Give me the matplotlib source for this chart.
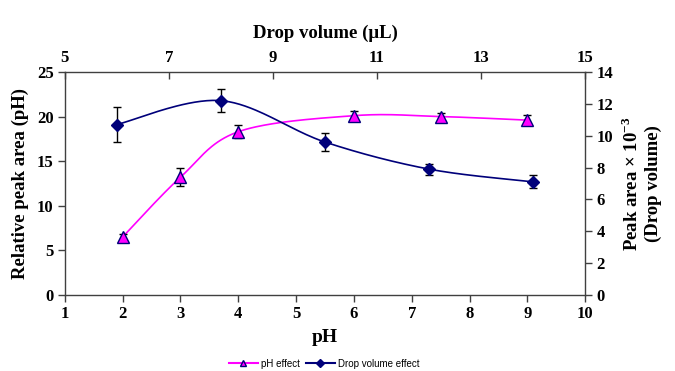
import matplotlib
matplotlib.use("Agg")
import matplotlib.pyplot as plt
from matplotlib.lines import Line2D
import numpy as np

plt.rcParams["font.family"] = "Liberation Serif"
plt.rcParams["font.weight"] = "bold"
plt.rcParams["mathtext.fontset"] = "custom"
plt.rcParams["mathtext.rm"] = "Liberation Serif:bold"
plt.rcParams["mathtext.bf"] = "Liberation Serif:bold"

# pH effect (bottom x, left y)
ph_values = [2, 3, 4, 6, 7.5, 9]
ph_area = [6.5, 13.2, 18.3, 20.1, 20.0, 19.6]
ph_err = [0.3, 1.0, 0.7, 0.5, 0.4, 0.6]

# drop volume effect (top x, right y)
drop_volume = [6, 8, 10, 12, 14]
drop_area = [10.7, 12.2, 9.6, 7.9, 7.1]
drop_err = [1.1, 0.7, 0.55, 0.35, 0.4]

MAGENTA = "#FF00FF"
NAVY = "#00007A"
SPINE = "#404040"


def smooth_curve(x, y, xspan, yspan, n=40):
    # Excel-style smoothed line (Catmull-Rom via cubic Bezier), in normalized units
    px = np.asarray(x, float) / xspan
    py = np.asarray(y, float) / yspan
    pts = np.column_stack([px, py])
    pts = np.vstack([pts[0], pts, pts[-1]])
    out = []
    t = np.linspace(0, 1, n)[:, None]
    for i in range(1, len(pts) - 2):
        p0, p3 = pts[i], pts[i + 1]
        c1 = p0 + (pts[i + 1] - pts[i - 1]) / 6
        c2 = p3 - (pts[i + 2] - pts[i]) / 6
        seg = ((1 - t) ** 3) * p0 + 3 * ((1 - t) ** 2) * t * c1 \
            + 3 * (1 - t) * t ** 2 * c2 + t ** 3 * p3
        out.append(seg)
    out = np.vstack(out)
    return out[:, 0] * xspan, out[:, 1] * yspan


fig = plt.figure(figsize=(6.75, 3.71), dpi=100)
ax = fig.add_axes([0.096, 0.205, 0.771, 0.601])
ax2 = fig.add_axes(ax.get_position(), frameon=False)

# pH series
ax.set_xlim(1, 10)
ax.set_ylim(0, 25)
sx, sy = smooth_curve(ph_values, ph_area, 9 / 520, 25 / 223)
ax.plot(sx, sy, color=MAGENTA, linewidth=1.2, zorder=2)
ax.errorbar(ph_values, ph_area, yerr=ph_err, fmt="none", ecolor="black",
            elinewidth=1, capsize=3, capthick=1, zorder=3)
ax.plot(ph_values, ph_area, linestyle="none", marker="^", markersize=9,
        markerfacecolor=MAGENTA, markeredgecolor=NAVY, markeredgewidth=1, zorder=4)

# drop volume series
ax2.set_xlim(5, 15)
ax2.set_ylim(0, 14)
dx, dy = smooth_curve(drop_volume, drop_area, 10 / 520, 14 / 223)
ax2.plot(dx, dy, color=NAVY, linewidth=1.2, zorder=2)
ax2.errorbar(drop_volume, drop_area, yerr=drop_err, fmt="none", ecolor="black",
             elinewidth=1, capsize=3, capthick=1, zorder=3)
ax2.plot(drop_volume, drop_area, linestyle="none", marker="D", markersize=6.5,
         markerfacecolor=NAVY, markeredgecolor=NAVY, zorder=4)

ax2.xaxis.set_label_position("top")
ax2.xaxis.tick_top()
ax2.yaxis.set_label_position("right")
ax2.yaxis.tick_right()
ax2.patch.set_visible(False)

ax.set_xticks(range(1, 11))
ax.set_yticks(range(0, 26, 5))
ax2.set_xticks(range(5, 16, 2))
ax2.set_yticks(range(0, 15, 2))

for side in ["top", "right", "left", "bottom"]:
    ax.spines[side].set_color(SPINE)
    ax.spines[side].set_linewidth(1)

ax.tick_params(axis="both", direction="out", length=5, width=1, color=SPINE,
               labelsize=12, pad=3)
ax2.tick_params(axis="y", direction="out", length=5, width=1, color=SPINE,
                labelsize=12, pad=3)
ax2.tick_params(axis="x", direction="in", length=5, width=1, color=SPINE,
                labelsize=12, pad=4)

ax.set_xlabel("pH", fontsize=14, fontweight="bold", labelpad=5)
ax.set_ylabel("Relative peak area (pH)", fontsize=13.5, fontweight="bold", labelpad=6)
ax2.set_xlabel("Drop volume (\u03bcL)", fontsize=13.5, fontweight="bold", labelpad=9)
ax2.set_ylabel("Peak area \u00d7 10$^{-3}$\n(Drop volume)", fontsize=13.5,
               fontweight="bold", rotation=90, labelpad=6, linespacing=1.2)

handles = [
    Line2D([], [], color=MAGENTA, marker="^", markersize=5,
           markerfacecolor=MAGENTA, markeredgecolor=NAVY, label="pH effect"),
    Line2D([], [], color=NAVY, marker="D", markersize=4,
           markerfacecolor=NAVY, markeredgecolor=NAVY, label="Drop volume effect"),
]
fig.legend(handles=handles, loc="center", bbox_to_anchor=(0.48, 0.02),
           ncol=2, frameon=False, handlelength=3, columnspacing=0.6,
           handletextpad=0.3,
           prop={"family": "Liberation Sans", "weight": "normal", "size": 7})

fig.savefig("out.png", dpi=100)
